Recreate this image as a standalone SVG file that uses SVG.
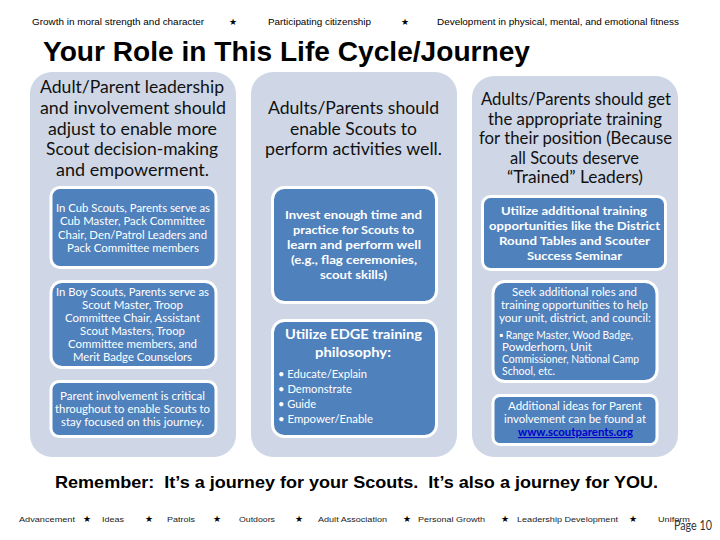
<svg xmlns="http://www.w3.org/2000/svg" width="720" height="540" viewBox="0 0 720 540">
<style>
text{font-family:"Liberation Sans",Arial,sans-serif;fill:#000}
.top{font-size:9px}
.foot{font-size:8px;fill:#222}
.star{font-family:"DejaVu Sans",sans-serif;font-size:9px;text-anchor:middle}
.title{font-size:27px;font-weight:bold}
.rem{font-size:16.5px;font-weight:bold;white-space:pre}
.panel{fill:#cfd7e6}
.box{fill:#4f81bd;stroke:#fff;stroke-width:3}
.h,.s,.m,.l,.b,.p{font-family:Lato,"Noto Sans",sans-serif}
.h{font-size:17.5px;text-anchor:middle;fill:#111}
.s{font-size:11px;text-anchor:middle;fill:#fff}
.m{font-size:12px;text-anchor:middle;fill:#fff;font-weight:bold}
.l{font-size:14px;text-anchor:middle;fill:#fff;font-weight:bold}
.b{font-size:11px;fill:#fff}
.link{font-family:Lato,"Noto Sans",sans-serif;font-size:11px;text-anchor:middle;fill:#0000cc;font-weight:bold;text-decoration:underline}
.p{font-size:13px;fill:#333}
</style>
<g id="header">
<text class="top" x="32" y="25" textLength="172" lengthAdjust="spacingAndGlyphs">Growth in moral strength and character</text>
<text class="star" x="233" y="25">★</text>
<text class="top" x="268" y="25" textLength="103" lengthAdjust="spacingAndGlyphs">Participating citizenship</text>
<text class="star" x="405" y="25">★</text>
<text class="top" x="437" y="25" textLength="242" lengthAdjust="spacingAndGlyphs">Development in physical, mental, and emotional fitness</text>
<text class="title" x="43" y="61" textLength="487" lengthAdjust="spacingAndGlyphs">Your Role in This Life Cycle/Journey</text>
</g>
<g id="column-1">
<rect class="panel" x="30" y="72" width="206" height="385" rx="22"/>
<text class="h" x="132" y="93" textLength="184" lengthAdjust="spacingAndGlyphs">Adult/Parent leadership</text>
<text class="h" x="133" y="114" textLength="186" lengthAdjust="spacingAndGlyphs">and involvement should</text>
<text class="h" x="132.500" y="134.500" textLength="169" lengthAdjust="spacingAndGlyphs">adjust to enable more</text>
<text class="h" x="132" y="155" textLength="172" lengthAdjust="spacingAndGlyphs">Scout decision-making</text>
<text class="h" x="132.500" y="176" textLength="153" lengthAdjust="spacingAndGlyphs">and empowerment.</text>
<g id="cub-scouts">
<rect class="box" x="51" y="187.500" width="165" height="80" rx="9"/>
<text class="s" x="133" y="212" textLength="154" lengthAdjust="spacingAndGlyphs">In Cub Scouts, Parents serve as</text>
<text class="s" x="132.500" y="225" textLength="145" lengthAdjust="spacingAndGlyphs">Cub Master, Pack Committee</text>
<text class="s" x="132.500" y="238.500" textLength="149" lengthAdjust="spacingAndGlyphs">Chair, Den/Patrol Leaders and</text>
<text class="s" x="133" y="251.500" textLength="132" lengthAdjust="spacingAndGlyphs">Pack Committee members</text>
</g>
<g id="boy-scouts">
<rect class="box" x="51" y="281.500" width="165" height="86" rx="11"/>
<text class="s" x="132.500" y="296" textLength="153" lengthAdjust="spacingAndGlyphs">In Boy Scouts, Parents serve as</text>
<text class="s" x="132.500" y="309" textLength="101" lengthAdjust="spacingAndGlyphs">Scout Master, Troop</text>
<text class="s" x="132.500" y="322" textLength="135" lengthAdjust="spacingAndGlyphs">Committee Chair, Assistant</text>
<text class="s" x="132.500" y="335" textLength="105" lengthAdjust="spacingAndGlyphs">Scout Masters, Troop</text>
<text class="s" x="132.500" y="348" textLength="129" lengthAdjust="spacingAndGlyphs">Committee members, and</text>
<text class="s" x="132.500" y="361" textLength="119" lengthAdjust="spacingAndGlyphs">Merit Badge Counselors</text>
</g>
<g id="parent-involvement">
<rect class="box" x="51" y="381.500" width="165" height="55" rx="8"/>
<text class="s" x="132.500" y="400" textLength="145" lengthAdjust="spacingAndGlyphs">Parent involvement is critical</text>
<text class="s" x="132.500" y="413" textLength="155" lengthAdjust="spacingAndGlyphs">throughout to enable Scouts to</text>
<text class="s" x="132.500" y="426" textLength="143" lengthAdjust="spacingAndGlyphs">stay focused on this journey.</text>
</g>
</g>
<g id="column-2">
<rect class="panel" x="251" y="72" width="206" height="385" rx="22"/>
<text class="h" x="353.500" y="114" textLength="171" lengthAdjust="spacingAndGlyphs">Adults/Parents should</text>
<text class="h" x="353.500" y="134.500" textLength="127" lengthAdjust="spacingAndGlyphs">enable Scouts to</text>
<text class="h" x="353.500" y="155" textLength="177" lengthAdjust="spacingAndGlyphs">perform activities well.</text>
<g id="invest-time">
<rect class="box" x="272.500" y="187.500" width="164" height="115" rx="12"/>
<text class="m" x="353.500" y="218.500" textLength="137" lengthAdjust="spacingAndGlyphs">Invest enough time and</text>
<text class="m" x="353.500" y="233.500" textLength="121" lengthAdjust="spacingAndGlyphs">practice for Scouts to</text>
<text class="m" x="354" y="248.500" textLength="134" lengthAdjust="spacingAndGlyphs">learn and perform well</text>
<text class="m" x="354" y="263.500" textLength="126" lengthAdjust="spacingAndGlyphs">(e.g., flag ceremonies,</text>
<text class="m" x="353.500" y="279" textLength="67" lengthAdjust="spacingAndGlyphs">scout skills)</text>
</g>
<g id="edge-training">
<rect class="box" x="272.500" y="320.500" width="164" height="116" rx="12"/>
<text class="l" x="353.500" y="339" textLength="137" lengthAdjust="spacingAndGlyphs">Utilize EDGE training</text>
<text class="l" x="353" y="357" textLength="76" lengthAdjust="spacingAndGlyphs">philosophy:</text>
<text class="b" x="278" y="378" textLength="89" lengthAdjust="spacingAndGlyphs">• Educate/Explain</text>
<text class="b" x="278" y="393" textLength="74" lengthAdjust="spacingAndGlyphs">• Demonstrate</text>
<text class="b" x="278" y="408" textLength="38" lengthAdjust="spacingAndGlyphs">• Guide</text>
<text class="b" x="278" y="423" textLength="95" lengthAdjust="spacingAndGlyphs">• Empower/Enable</text>
</g>
</g>
<g id="column-3">
<rect class="panel" x="472" y="76" width="206" height="381" rx="22"/>
<text class="h" x="576" y="105" textLength="190" lengthAdjust="spacingAndGlyphs">Adults/Parents should get</text>
<text class="h" x="575" y="125" textLength="174" lengthAdjust="spacingAndGlyphs">the appropriate training</text>
<text class="h" x="575.500" y="144" textLength="193" lengthAdjust="spacingAndGlyphs">for their position (Because</text>
<text class="h" x="574.500" y="164" textLength="129" lengthAdjust="spacingAndGlyphs">all Scouts deserve</text>
<text class="h" x="575" y="183" textLength="136" lengthAdjust="spacingAndGlyphs">“Trained” Leaders)</text>
<g id="additional-training">
<rect class="box" x="482.500" y="196.500" width="183" height="73" rx="8"/>
<text class="m" x="574" y="215" textLength="146" lengthAdjust="spacingAndGlyphs">Utilize additional training</text>
<text class="m" x="574.500" y="230" textLength="171" lengthAdjust="spacingAndGlyphs">opportunities like the District</text>
<text class="m" x="574.500" y="245" textLength="151" lengthAdjust="spacingAndGlyphs">Round Tables and Scouter</text>
<text class="m" x="574.500" y="260" textLength="95" lengthAdjust="spacingAndGlyphs">Success Seminar</text>
</g>
<g id="additional-roles">
<rect class="box" x="493" y="281.500" width="164" height="100" rx="12"/>
<text class="s" x="574.500" y="296" textLength="125" lengthAdjust="spacingAndGlyphs">Seek additional roles and</text>
<text class="s" x="574.500" y="309" textLength="147" lengthAdjust="spacingAndGlyphs">training opportunities to help</text>
<text class="s" x="575" y="322" textLength="152" lengthAdjust="spacingAndGlyphs">your unit, district, and council:</text>
<text class="b" x="499" y="339" textLength="134" lengthAdjust="spacingAndGlyphs">▪ Range Master, Wood Badge,</text>
<text class="b" x="502" y="351" textLength="90" lengthAdjust="spacingAndGlyphs">Powderhorn, Unit</text>
<text class="b" x="502" y="363" textLength="137" lengthAdjust="spacingAndGlyphs">Commissioner, National Camp</text>
<text class="b" x="502" y="375" textLength="53" lengthAdjust="spacingAndGlyphs">School, etc.</text>
</g>
<g id="more-ideas">
<rect class="box" x="493" y="395.500" width="164" height="49" rx="7"/>
<text class="s" x="575" y="410" textLength="134" lengthAdjust="spacingAndGlyphs">Additional ideas for Parent</text>
<text class="s" x="575" y="423" textLength="142" lengthAdjust="spacingAndGlyphs">involvement can be found at</text>
<text class="link" x="575.500" y="436" textLength="115" lengthAdjust="spacingAndGlyphs">www.scoutparents.org</text>
</g>
</g>
<g id="footer">
<text class="rem" x="55" y="488" textLength="603" lengthAdjust="spacingAndGlyphs">Remember:  It’s a journey for your Scouts.  It’s also a journey for YOU.</text>
<text class="foot" x="19" y="522" textLength="56" lengthAdjust="spacingAndGlyphs">Advancement</text>
<text class="star" x="87" y="522">★</text>
<text class="foot" x="102" y="522" textLength="22" lengthAdjust="spacingAndGlyphs">Ideas</text>
<text class="star" x="149" y="522">★</text>
<text class="foot" x="167" y="522" textLength="28" lengthAdjust="spacingAndGlyphs">Patrols</text>
<text class="star" x="217" y="522">★</text>
<text class="foot" x="239" y="522" textLength="36" lengthAdjust="spacingAndGlyphs">Outdoors</text>
<text class="star" x="299" y="522">★</text>
<text class="foot" x="318" y="522" textLength="69" lengthAdjust="spacingAndGlyphs">Adult Association</text>
<text class="star" x="407" y="522">★</text>
<text class="foot" x="418" y="522" textLength="67" lengthAdjust="spacingAndGlyphs">Personal Growth</text>
<text class="star" x="505" y="522">★</text>
<text class="foot" x="517" y="522" textLength="101" lengthAdjust="spacingAndGlyphs">Leadership Development</text>
<text class="star" x="633" y="522">★</text>
<text class="foot" x="658" y="522" textLength="32" lengthAdjust="spacingAndGlyphs">Uniform</text>
<text class="p" x="674" y="530" textLength="38" lengthAdjust="spacingAndGlyphs">Page 10</text>
</g>
</svg>
